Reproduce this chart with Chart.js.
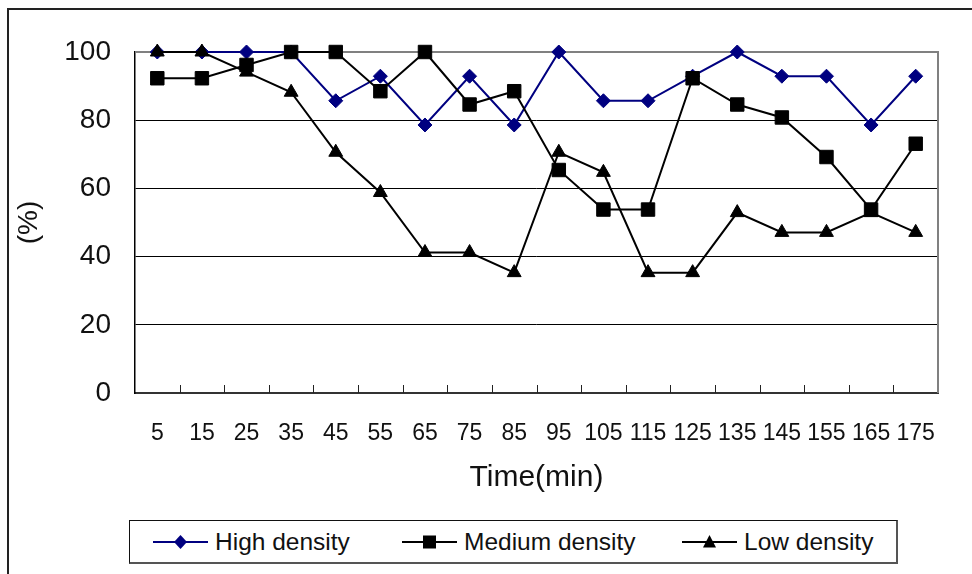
<!DOCTYPE html>
<html>
<head>
<meta charset="utf-8">
<script src="https://cdn.jsdelivr.net/npm/chart.js@4.4.1/dist/chart.umd.min.js"></script>
<style>
  html, body { margin: 0; padding: 0; background: #fff; }
  #wrap { position: relative; width: 972px; height: 574px; overflow: hidden; }
  #frame { position: absolute; left: 7px; top: 8px; width: 1000px; height: 600px;
           border-left: 2px solid #222; border-top: 2px solid #222; box-sizing: border-box; }
  canvas { position: absolute; left: 0; top: 0; }
  #legend { position: absolute; left: 129px; top: 520px; width: 769px; height: 44px;
            box-sizing: border-box; border: 1px solid #111; border-right: 2px solid #555; border-bottom: 2px solid #555;
            background: #fff; font-family: "Liberation Sans", Arial, sans-serif; font-size: 24.5px; color: #111; }
  .item { position: absolute; top: 0; height: 42px; display: flex; align-items: center; white-space: nowrap; }
  .item svg { margin-right: 7px; }
</style>
</head>
<body>
<div id="wrap">
  <div id="frame"></div>
  <canvas id="c" width="972" height="574"></canvas>
  <div id="legend"></div>
</div>
<script>
const categories = ['5','15','25','35','45','55','65','75','85','95','105','115','125','135','145','155','165','175'];
const highDensity   = [100,100,100,100,85.7,92.9,78.6,92.9,78.6,100,85.7,85.7,92.9,100,92.9,92.9,78.6,92.9];
const mediumDensity = [92.3,92.3,96.2,100,100,88.5,100,84.6,88.5,65.4,53.8,53.8,92.3,84.6,80.8,69.2,53.8,73.1];
const lowDensity    = [100,100,94.1,88.2,70.6,58.8,41.2,41.2,35.3,70.6,64.7,35.3,35.3,52.9,47.1,47.1,52.9,47.1];
const seriesNames = ['High density','Medium density','Low density'];
const yTicks = [0,20,40,60,80,100];
const xTitle = 'Time(min)';
const yTitle = '(%)';

const FONT = '"Liberation Sans", Arial, sans-serif';

const framePlugin = {
  id: 'frame',
  beforeDatasetsDraw(chart) {
    const {ctx, chartArea: a, scales: {x}} = chart;
    ctx.save();
    // top and right plot border (gray)
    ctx.strokeStyle = '#808080';
    ctx.lineWidth = 2;
    ctx.beginPath();
    ctx.moveTo(a.left, a.top);
    ctx.lineTo(a.right, a.top);
    ctx.lineTo(a.right, a.bottom);
    ctx.stroke();
    // inside tick marks on x axis at category boundaries
    ctx.strokeStyle = '#222';
    ctx.lineWidth = 1;
    ctx.beginPath();
    for (let i = 1; i < categories.length; i++) {
      const px = Math.round(x.getPixelForValue(i - 0.5)) + 0.5;
      ctx.moveTo(px, a.bottom);
      ctx.lineTo(px, a.bottom - 8);
    }
    ctx.stroke();
    ctx.restore();
  }
};

new Chart(document.getElementById('c'), {
  type: 'line',
  data: {
    labels: categories,
    datasets: [
      { label: seriesNames[0], data: highDensity, order: 3,
        borderColor: '#000080', backgroundColor: '#000080', borderWidth: 2,
        pointStyle: 'rectRot', pointRadius: 7, pointHoverRadius: 7,
        pointBackgroundColor: '#000080', pointBorderColor: '#000080', pointBorderWidth: 1,
        tension: 0, clip: false },
      { label: seriesNames[1], data: mediumDensity, order: 2,
        borderColor: '#000', backgroundColor: '#000', borderWidth: 2,
        pointStyle: 'rect', pointRadius: 9.5, pointHoverRadius: 9.5,
        pointBackgroundColor: '#000', pointBorderColor: '#000', pointBorderWidth: 1,
        tension: 0, clip: false },
      { label: seriesNames[2], data: lowDensity, order: 1,
        borderColor: '#000', backgroundColor: '#000', borderWidth: 2,
        pointStyle: 'triangle', pointRadius: 8, pointHoverRadius: 8,
        pointBackgroundColor: '#000', pointBorderColor: '#000', pointBorderWidth: 1,
        tension: 0, clip: false }
    ]
  },
  options: {
    responsive: false,
    devicePixelRatio: 1,
    animation: false,
    events: [],
    layout: { padding: { top: 52, right: 34, left: 0, bottom: 0 } },
    plugins: { legend: { display: false }, tooltip: { enabled: false } },
    scales: {
      x: {
        type: 'category',
        offset: true,
        grid: { display: true, drawOnChartArea: false, drawTicks: false },
        border: { display: true, color: '#333', width: 2 },
        ticks: { autoSkip: false, maxRotation: 0, minRotation: 0, padding: 27,
                 color: '#111', font: { family: FONT, size: 23 } },
        title: { display: true, text: xTitle, color: '#111',
                 font: { family: FONT, size: 30 }, padding: { top: 0, bottom: 78 } },
        afterFit(s) { s.height = 181; }
      },
      y: {
        min: 0, max: 100,
        afterBuildTicks(s) { s.ticks = yTicks.map(v => ({ value: v })); },
        grid: { drawTicks: false, lineWidth: 1,
                color: c => (c.tick && (c.tick.value === 100 || c.tick.value === 0)) ? 'rgba(0,0,0,0)' : '#000' },
        border: { display: true, color: '#000', width: 1.5 },
        ticks: { padding: 24, color: '#111', font: { family: FONT, size: 28 } },
        title: { display: true, text: yTitle, color: '#111',
                 font: { family: FONT, size: 28 }, padding: { top: 12, bottom: 0 } },
        afterFit(s) { s.width = 135; }
      }
    }
  },
  plugins: [framePlugin]
});

// legend (HTML)
const legend = document.getElementById('legend');
const legendX = [23, 272, 552];
const icons = [
  '<polygon points="27.5,3 34,10 27.5,17 21,10" fill="#000080"/>',
  '<rect x="21" y="3.5" width="13" height="13" fill="#000"/>',
  '<polygon points="27.5,3 34,15.5 21,15.5" fill="#000"/>'
];
const lineColors = ['#000080', '#000', '#000'];
seriesNames.forEach((name, i) => {
  const d = document.createElement('div');
  d.className = 'item';
  d.style.left = legendX[i] + 'px';
  d.innerHTML = '<svg width="55" height="20" viewBox="0 0 55 20">' +
    '<line x1="0" y1="10" x2="55" y2="10" stroke="' + lineColors[i] + '" stroke-width="2"/>' +
    icons[i] + '</svg><span>' + name + '</span>';
  legend.appendChild(d);
});
</script>
</body>
</html>
